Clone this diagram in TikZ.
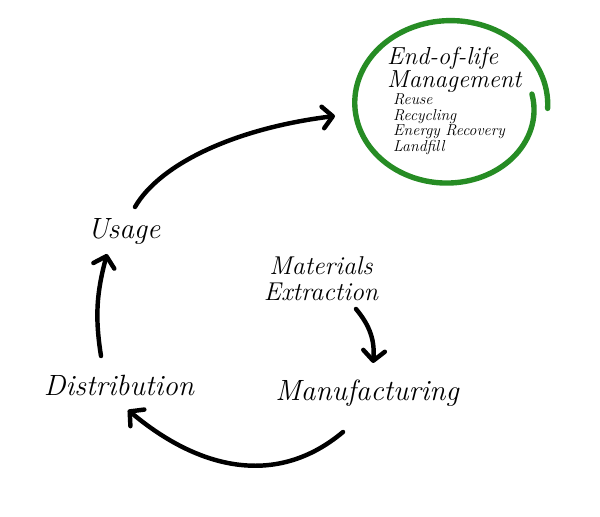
\documentclass[tikz,border=0pt]{standalone}
\usepackage{tikz}
\usetikzlibrary{calc}
\usetikzlibrary{arrows.meta}
\definecolor{leafgreen}{RGB}{38,140,36}
\tikzset{
  stage/.style={font=\itshape\fontsize{25}{26}\selectfont, inner sep=0pt},
  eolhead/.style={font=\itshape\fontsize{21}{17}\selectfont, inner sep=0pt, align=left},
  eolopt/.style={font=\itshape\fontsize{13.5}{14}\selectfont, inner sep=0pt},
  flow/.style={line width=3.8pt, line cap=round, -{Straight Barb[round, length=3mm, width=6.5mm]}},
  ring/.style={leafgreen, line width=4.6pt, line cap=round}
}

\begin{document}
\begin{tikzpicture}[x=0.03cm, y=0.03cm,
    declare function={ringt(\a)=(8-\a)/371; rings(\a)=1+0.04*ringt(\a)-0.12*(1-ringt(\a))^4;}]
        \useasboundingbox (0,0) rectangle (600,517);
        %life cycle stages
        \node[stage] (usage) at (124,286) {Usage};
        \node[stage] (distribution) at (119,132) {Distribution};
        \node[stage] (manufacturing) at (367,124) {Manufacturing};
        \node[stage, font=\itshape\fontsize{22}{22}\selectfont, align=center] (extraction) at (321,238) {Materials\\Extraction};

        %end of life
        \draw[ring] plot[domain=8:-363, samples=120, smooth, variable=\a]
            ({450+94*rings(\a)*cos(\a)}, {413+81*rings(\a)*sin(\a)});
        \coordinate (ringwest) at (335,401);
        \node[eolhead, anchor=north west] (endoflife) at (387,470) {End-of-life\\Management};
        \foreach \opt [count=\i] in {Reuse, Recycling, Energy Recovery, Landfill}
            \node[eolopt, anchor=base west] (option\i) at (393,{412-15.5*(\i-1)}) {\opt};

        %arrows
        \draw[flow] ($(usage)+(11,24)$) .. controls +(60:50) and +(187:100) .. (ringwest);
        \draw[flow] ($(distribution)+(-18,29)$) to[out=99, in=255] ($(usage)+(-17,-23)$);
        \draw[flow] ($(manufacturing)+(-24,-39)$) .. controls +(220:85) and +(-40:95) .. ($(distribution)+(9,-25)$);
        \draw[flow] ($(extraction)+(35,-30)$) to[out=-50, in=85] ($(manufacturing)+(6,30)$);
    \end{tikzpicture}
\end{document}
